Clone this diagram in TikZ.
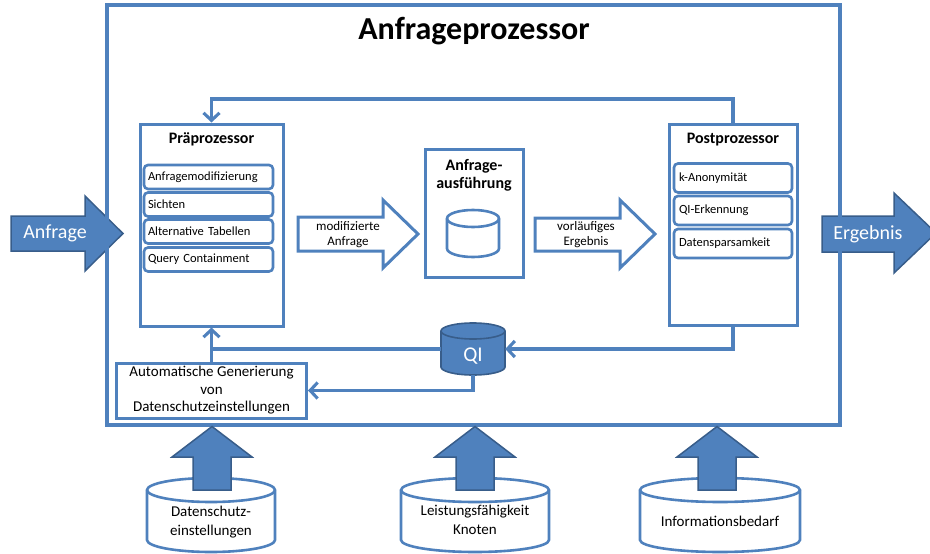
\documentclass[tikz,border=0pt]{standalone}
\usepackage{fontspec}
\setmainfont{Carlito}
\usetikzlibrary{arrows.meta}
\definecolor{ablue}{HTML}{4F81BD}
\definecolor{dblue}{HTML}{385D8A}
\tikzset{
  frame/.style={draw=ablue, line width=3.4pt, inner sep=0pt},
  procbox/.style={draw=ablue, line width=3pt, fill=white, inner sep=0pt},
  itembox/.style={draw=ablue, line width=2.6pt, rounded corners=4pt, inner ysep=0pt, inner xsep=4pt, align=left, font=\fontsize{12.5}{14}\selectfont},
  boxtitle/.style={font=\bfseries\fontsize{16}{18}\selectfont, inner sep=0pt, align=center},
  plaintext/.style={inner sep=0pt, align=center},
  bigwhite/.style={inner sep=0pt, text=white, font=\fontsize{20}{24}\selectfont},
  conn/.style={draw=ablue, line width=3.1pt},
  tipc/.style={-{Straight Barb[length=7.5pt, width=16pt]}},
  hollowarrow/.style={draw=ablue, line width=3pt, fill=white, line join=miter},
  solidarrow/.style={fill=ablue, draw=dblue, line width=1.5pt, line join=miter},
  cylout/.style={draw=ablue, line width=2.6pt, fill=white},
  qicyl/.style={draw=dblue, line width=1.6pt, fill=ablue},
}
% cx, top, bottom, half width, y radius, style
\newcommand{\drawcyl}[6]{%
  \path[#6] (#1-#4,#2+#5) -- (#1-#4,#3-#5)
     arc[start angle=180,end angle=360,x radius=#4pt,y radius=#5pt]
     -- (#1+#4,#2+#5)
     arc[start angle=0,end angle=180,x radius=#4pt,y radius=#5pt] -- cycle;
  \path[#6,fill=none] (#1-#4,#2+#5)
     arc[start angle=180,end angle=360,x radius=#4pt,y radius=#5pt];
}
\begin{document}
\begin{tikzpicture}[x=1pt,y=-1pt]
\useasboundingbox (0,0) rectangle (930,554);
\clip (0,0) rectangle (930,554);

% input / output block arrows
\path[solidarrow] (11,216) -- (85,216) -- (85,196) -- (123,233.5) -- (85,271) -- (85,251) -- (11,251) -- cycle;
\path[solidarrow] (822,216) -- (894,216) -- (894,193) -- (936,233) -- (894,273) -- (894,252) -- (822,252) -- cycle;

% outer frame
\node[frame, minimum width=733pt, minimum height=420pt] (proc) at (473.5,215) {};
\node[inner sep=0pt, font=\bfseries\fontsize{32}{36}\selectfont, anchor=base] (title) at (474,39) {Anfrageprozessor};
\node[bigwhite] (anfrage) at (55,233) {Anfrage};
\node[bigwhite] (ergebnis) at (868,234) {Ergebnis};

% Praeprozessor
\node[procbox, minimum width=143pt, minimum height=202pt] (pre) at (211.5,225) {};
\node[boxtitle, anchor=base] (pretitle) at (211.5,143) {Präprozessor};
\node[itembox, text width=121pt, minimum height=24pt] (p1) at (208.5,177) {Anfragemodifizierung};
\node[itembox, text width=121pt, minimum height=24pt] (p2) at (208.5,204.5) {Sichten};
\node[itembox, text width=121pt, minimum height=24pt] (p3) at (208.5,231.5) {Alternative Tabellen};
\node[itembox, text width=121pt, minimum height=24pt] (p4) at (208.5,259.5) {Query Containment};

% Anfrageausfuehrung
\node[procbox, minimum width=98pt, minimum height=128pt] (exec) at (474,213) {};
\node[boxtitle, font=\bfseries\fontsize{16}{18.5}\selectfont] (exectitle) at (474,175.5) {Anfrage-\\ausführung};
\drawcyl{473}{210}{257}{26}{8.5}{cylout}

% Postprozessor
\node[procbox, minimum width=128pt, minimum height=201pt] (post) at (733,224.5) {};
\node[boxtitle, anchor=base] (posttitle) at (733,143) {Postprozessor};
\node[itembox, text width=108pt, inner xsep=5pt, minimum height=29pt] (q1) at (733,178) {k-Anonymität};
\node[itembox, text width=108pt, inner xsep=5pt, minimum height=29pt] (q2) at (733,210.5) {QI-Erkennung};
\node[itembox, text width=108pt, inner xsep=5pt, minimum height=29pt] (q3) at (733,243.5) {Datensparsamkeit};

% hollow block arrows
\path[hollowarrow] (298,217) -- (383,217) -- (383,200) -- (418,234) -- (383,268) -- (383,251) -- (298,251) -- cycle;
\node[plaintext, font=\fontsize{13}{15}\selectfont] (modtext) at (348,234.5) {modifizierte\\Anfrage};
\path[hollowarrow] (535,218) -- (620,218) -- (620,200) -- (655,234) -- (620,268) -- (620,251) -- (535,251) -- cycle;
\node[plaintext, font=\fontsize{13}{15}\selectfont] (vortext) at (586,234.5) {vorläufiges\\Ergebnis};

% QI store
\drawcyl{473}{323}{375}{32}{8}{qicyl}
\node[minimum width=64pt, minimum height=52pt, inner sep=0pt] (qi) at (473,349) {};
\node[bigwhite, font=\fontsize{21}{24}\selectfont] (qitext) at (473,356) {QI};

% automatic generation box
\node[procbox, minimum width=190pt, minimum height=55pt, align=center, font=\fontsize{15}{17.5}\selectfont] (auto) at (211.5,390.5) {Automatische Generierung\\von\\Datenschutzeinstellungen};

% connectors
\coordinate (fb) at (0,99);
\draw[conn,tipc] (post.north) -- (post.north |- fb) -| (pre.north);
\draw[conn,tipc] (post.south) |- (qi.east);
\draw[conn] (qi.west) -- (qi.west -| pre.south);
\draw[conn,tipc] (auto.north) -- (pre.south);
\draw[conn,tipc] (qi.south) |- (auto.east);

% bottom sources
\drawcyl{211}{478}{552}{64}{12}{cylout}
\drawcyl{475}{478}{552}{74}{12}{cylout}
\drawcyl{720}{478}{552}{80}{12}{cylout}
\foreach \cx in {212,475,717}{
  \path[solidarrow] (\cx-19,490) -- (\cx-19,457) -- (\cx-40,457) -- (\cx,426.5) -- (\cx+40,457) -- (\cx+19,457) -- (\cx+19,490) -- cycle;
}
\node[plaintext, font=\fontsize{15}{19}\selectfont] (src1) at (211,522) {Datenschutz-\\einstellungen};
\node[plaintext, font=\fontsize{15}{19}\selectfont] (src2) at (475,520) {Leistungsfähigkeit\\Knoten};
\node[plaintext, font=\fontsize{15}{19}\selectfont] (src3) at (720,521) {Informationsbedarf};
\end{tikzpicture}
\end{document}
